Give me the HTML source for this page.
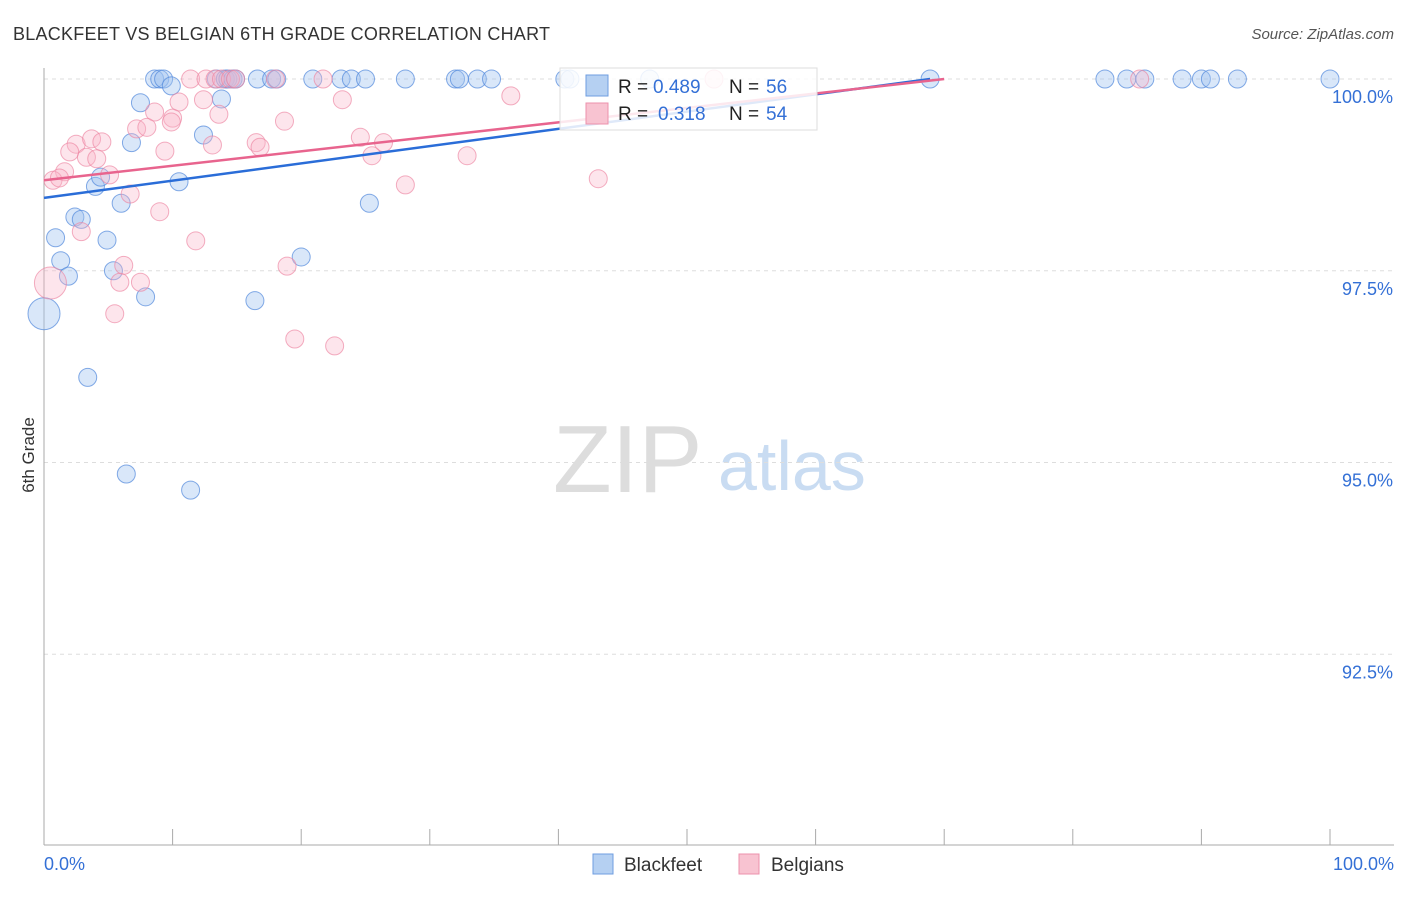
<!DOCTYPE html>
<html><head><meta charset="utf-8"><style>
body{margin:0;background:#fff;font-family:"Liberation Sans",sans-serif}
svg text{font-family:"Liberation Sans",sans-serif}
</style></head><body>
<svg id="c" width="1406" height="892">
<text x="13" y="40" font-size="18" fill="#333" textLength="537">BLACKFEET VS BELGIAN 6TH GRADE CORRELATION CHART</text>
<text x="1394" y="39" font-size="15" font-style="italic" fill="#555" text-anchor="end">Source: ZipAtlas.com</text>
<text x="34" y="455" font-size="17" fill="#333" text-anchor="middle" transform="rotate(-90 34 455)">6th Grade</text>
<g><text x="553" y="492" font-size="96" font-family="Liberation Serif" fill="#ddd">ZIP</text><text x="718" y="490" font-size="70" fill="#c9dcf2">atlas</text></g>
<g id="grid"></g><g id="pts"></g><g id="lines"></g>
<g>
<rect x="560" y="68" width="257" height="62" fill="rgba(255,255,255,0.85)" stroke="#ddd"/>
<rect x="586" y="75" width="22" height="21" fill="#b5d0f2" stroke="#6f9ee0"/>
<rect x="586" y="103" width="22" height="21" fill="#f8c3d1" stroke="#ec92ac"/>
<text x="618" y="93" font-size="19" fill="#222">R =</text><text x="653" y="93" font-size="19" fill="#3470d6">0.489</text>
<text x="729" y="93" font-size="19" fill="#222">N =</text><text x="766" y="93" font-size="19" fill="#3470d6">56</text>
<text x="618" y="120" font-size="19" fill="#222">R =</text><text x="658" y="120" font-size="19" fill="#3470d6">0.318</text>
<text x="729" y="120" font-size="19" fill="#222">N =</text><text x="766" y="120" font-size="19" fill="#3470d6">54</text>
</g>
<g>
<rect x="593" y="854" width="20" height="20" fill="#b5d0f2" stroke="#6f9ee0"/><text x="624" y="871" font-size="19" fill="#333">Blackfeet</text>
<rect x="739" y="854" width="20" height="20" fill="#f8c3d1" stroke="#ec92ac"/><text x="771" y="871" font-size="19" fill="#333">Belgians</text>
</g>
</svg>
<script>
const yTicks=[100,97.5,95,92.5];
const yTickLabels=["100.0%","97.5%","95.0%","92.5%"];
const blueX=[8.6,9.0,9.3,9.9,7.5,6.8,13.8,12.4,10.5,4.0,4.4,6.0,2.4,2.9,0.9,4.9,1.3,1.9,5.4,7.9,0,3.4,6.4,11.4,16.4,20.0,25.3,16.6,17.7,18.1,20.9,23.1,23.9,25.0,28.1,32.0,32.3,33.7,34.8,40.5,40.9,47.1,68.9,82.5,84.2,85.6,88.5,90.0,90.7,92.8,100,13.4,14.1,14.3,14.7,14.9];
const blueY=[100,100,100,99.91,99.69,99.17,99.74,99.27,98.66,98.60,98.72,98.38,98.20,98.17,97.93,97.90,97.63,97.43,97.50,97.16,96.94,96.11,94.85,94.64,97.11,97.68,98.38,100,100,100,100,100,100,100,100,100,100,100,100,100,100,100,100,100,100,100,100,100,100,100,100,100,100,100,100,100];
const pinkX=[11.4,12.6,13.3,13.8,14.5,14.9,18.0,21.7,52.1,85.2,10.5,12.4,13.6,23.2,36.3,8.6,10.0,9.9,18.7,7.2,8.0,24.6,2.5,3.7,4.5,2.0,3.3,4.1,13.1,16.5,16.8,26.4,25.5,9.4,32.9,1.6,5.1,0.7,1.2,28.1,43.1,6.7,9.0,2.9,11.8,6.2,5.9,7.5,18.9,0.5,5.5,19.5,22.6];
const pinkY=[100,100,100,100,100,100,100,100,100,100,99.70,99.73,99.54,99.73,99.78,99.57,99.49,99.44,99.45,99.35,99.37,99.24,99.15,99.22,99.18,99.05,98.98,98.96,99.14,99.17,99.11,99.17,99.00,99.06,99.00,98.79,98.75,98.68,98.71,98.62,98.70,98.50,98.27,98.01,97.89,97.57,97.35,97.35,97.56,97.34,96.94,96.61,96.52];
const blueTrend=[98.45,100,68.9];
const pinkTrend=[98.68,100,70];
const xs=v=>44+v*12.86, ys=v=>79+(100-v)*76.7;
const NS="http://www.w3.org/2000/svg";
function mk(t,a,p){const e=document.createElementNS(NS,t);for(const k in a)e.setAttribute(k,a[k]);p.appendChild(e);return e;}
const g=document.getElementById('grid');
yTicks.forEach((t,i)=>{
 const l=mk('line',{x1:44,x2:1394,y1:ys(t),y2:ys(t),stroke:'#ddd','stroke-dasharray':'4,4'},g);
 
 
 const tx=mk('text',{x:1393,y:ys(t)+24,'font-size':18,fill:'#3470d6','text-anchor':'end'},g);tx.textContent=yTickLabels[i];
 
 
});
const ax=mk('line',{x1:44,x2:44,y1:68,y2:845,stroke:'#aaa'},g);


const bx=mk('line',{x1:44,x2:1394,y1:845,y2:845,stroke:'#aaa'},g);


for(let i=1;i<=10;i++){const tk=mk('line',{x1:xs(i*10),x2:xs(i*10),y1:829,y2:845,stroke:'#aaa'},g);
 
 }
[[0,'0.0%','start',44],[100,'100.0%','end',1394]].forEach(d=>{const t=mk('text',{x:d[3],y:870,'font-size':18,fill:'#3470d6','text-anchor':d[2]},g);t.textContent=d[1];
 
 });
const P=document.getElementById('pts');
function pts(X,Y,f,s,name){X.forEach((x,i)=>{const big=(x===0&&name==='blackfeet-point')||(x===0.5&&Y[i]<97.5);
 const c=mk('circle',{cx:xs(x),cy:ys(Y[i]),r:big?16:9,fill:f,stroke:s,'stroke-width':1},P);
 
 });}
pts(blueX,blueY,'rgba(160,196,240,0.4)','rgba(80,135,220,0.7)','blackfeet-point');
pts(pinkX,pinkY,'rgba(248,180,200,0.35)','rgba(236,130,160,0.65)','belgians-point');
const L=document.getElementById('lines');
function tl(T,c,name){const l=mk('line',{x1:xs(0),y1:ys(T[0]),x2:xs(T[2]),y2:ys(T[1]),stroke:c,'stroke-width':2.5},L);
 
 }
tl(blueTrend,'#2a6dd8','blackfeet-trendline');
tl(pinkTrend,'#e8648e','belgians-trendline');
</script>
</body></html>
